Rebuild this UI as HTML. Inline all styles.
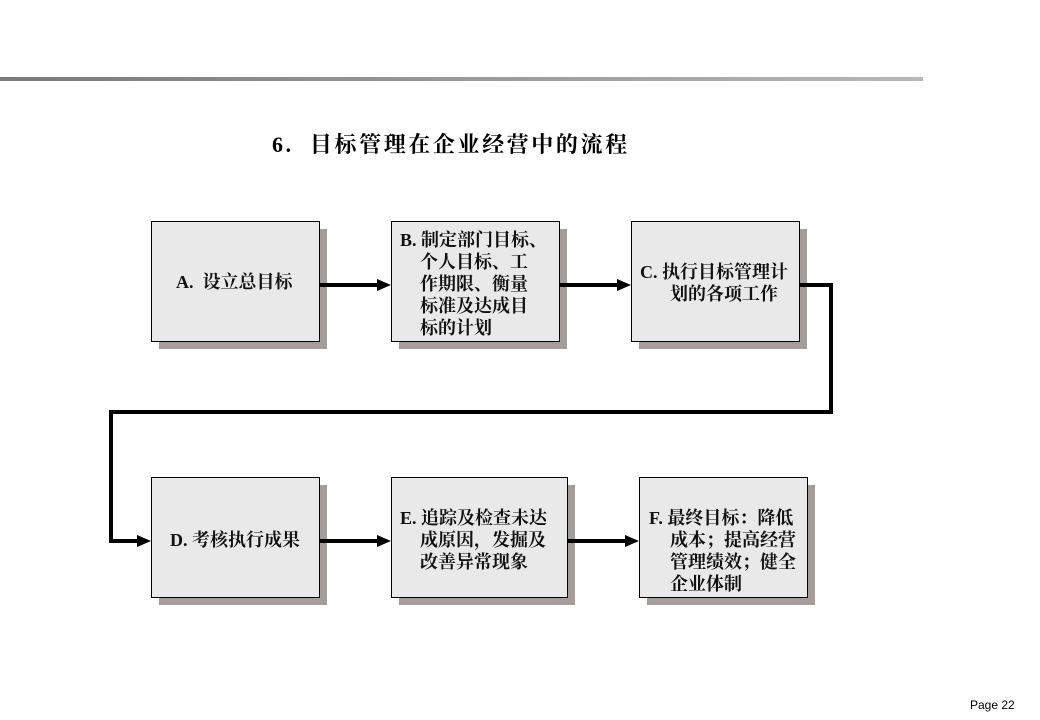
<!DOCTYPE html>
<html><head><meta charset="utf-8"><style>
body{margin:0;width:1040px;height:720px;background:#fff;position:relative;overflow:hidden;font-family:"Liberation Serif","Noto Serif CJK SC",serif;}
.hr{position:absolute;left:0;top:77px;width:923px;height:4px;background:linear-gradient(to right,#7a7a7a,#b8b8b8);}
.title{position:absolute;left:272px;top:128px;font-size:22px;font-weight:bold;letter-spacing:2.6px;white-space:nowrap;}
.sh{position:absolute;background:#a59d99;width:168px;height:120px;}
.bx{position:absolute;background:#e9e9e9;border:1px solid #000;width:167px;height:119px;box-sizing:border-box;}
.t{position:absolute;font-size:18px;font-weight:bold;white-space:nowrap;line-height:22px;color:#111;}
.pg{position:absolute;left:970px;top:698px;font-family:"Liberation Sans",sans-serif;font-size:12px;}
</style></head><body>
<div class="hr"></div>
<div class="title">6.&nbsp; 目标管理在企业经营中的流程</div>

<div class="sh" style="left:159px;top:229px"></div><div class="bx" style="left:151px;top:221px;width:169px;height:121px"></div>
<div class="sh" style="left:399px;top:229px"></div><div class="bx" style="left:391px;top:221px;width:169px;height:121px"></div>
<div class="sh" style="left:639px;top:229px"></div><div class="bx" style="left:631px;top:221px;width:169px;height:121px"></div>
<div class="sh" style="left:159px;top:485px"></div><div class="bx" style="left:151px;top:477px;width:169px;height:121px"></div>
<div class="sh" style="left:399px;top:485px;width:176px"></div><div class="bx" style="left:391px;top:477px;width:177px;height:121px"></div>
<div class="sh" style="left:647px;top:485px"></div><div class="bx" style="left:639px;top:477px;width:169px;height:121px"></div>

<svg style="position:absolute;left:0;top:0" width="1040" height="720">
<g stroke="#000" stroke-width="4" fill="none">
<line x1="320" y1="285" x2="380" y2="285"/>
<line x1="560" y1="285" x2="620" y2="285"/>
<polyline points="800,285 831,285 831,412 111,412 111,541 140,541"/>
<line x1="320" y1="541" x2="380" y2="541"/>
<line x1="568" y1="541" x2="628" y2="541"/>
</g>
<g fill="#000">
<polygon points="391,285 377,279 377,291"/>
<polygon points="631,285 617,279 617,291"/>
<polygon points="151,541 137,535 137,547"/>
<polygon points="391,541 377,535 377,547"/>
<polygon points="639,541 625,535 625,547"/>
</g>
</svg>

<div class="t" style="left:176px;top:271px">A.&nbsp; 设立总目标</div>
<div class="t" style="left:400px;top:229px">B. 制定部门目标、<br><span style="padding-left:20px">个人目标、工</span><br><span style="padding-left:20px">作期限、衡量</span><br><span style="padding-left:20px">标准及达成目</span><br><span style="padding-left:20px">标的计划</span></div>
<div class="t" style="left:640px;top:261px">C. 执行目标管理计<br><span style="padding-left:30px">划的各项工作</span></div>
<div class="t" style="left:170px;top:529px">D. 考核执行成果</div>
<div class="t" style="left:400px;top:507px">E. 追踪及检查未达<br><span style="padding-left:20px">成原因，发掘及</span><br><span style="padding-left:20px">改善异常现象</span></div>
<div class="t" style="left:649px;top:507px">F. 最终目标：降低<br><span style="padding-left:21px">成本；提高经营</span><br><span style="padding-left:21px">管理绩效；健全</span><br><span style="padding-left:21px">企业体制</span></div>

<div class="pg">Page 22</div>
</body></html>
